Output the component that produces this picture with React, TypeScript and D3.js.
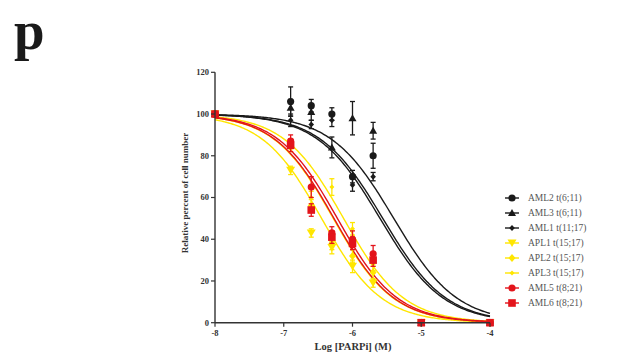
import React from "react";
import * as d3 from "d3";

const logDose = [-8, -6.9, -6.6, -6.3, -6, -5.7, -5, -4];
const seriesNames = [
  "AML2 t(6;11)", "AML3 t(6;11)", "AML1 t(11;17)",
  "APL1 t(15;17)", "APL2 t(15;17)", "APL3 t(15;17)",
  "AML5 t(8;21)", "AML6 t(8;21)",
];
const aml2 = [100, 106, 104, 100, 70, 80, 0, 0];
const aml2Err = [0, 7, 3, 3, 3, 6, 0, 0];
const aml3 = [100, 103, 101, 84, 98, 92, 0, 0];
const aml3Err = [0, 4, 4, 5, 8, 4, 0, 0];
const aml1 = [100, 97, 95, 97, 66, 70, 0, 0];
const aml1Err = [0, 3, 2, 3, 3, 2, 0, 0];
const apl1 = [100, 73, 43, 36, 27, 19, 0, 0];
const apl1Err = [0, 2, 2, 3, 3, 2, 0, 0];
const apl2 = [100, 84, 56, 38, 32, 24, 0, 0];
const apl2Err = [0, 2, 3, 3, 3, 3, 0, 0];
const apl3 = [100, 86, 60, 65, 45, 28, 0, 0];
const apl3Err = [0, 2, 3, 4, 3, 3, 0, 0];
const aml5 = [100, 87, 65, 43, 40, 33, 0, 0];
const aml5Err = [0, 3, 5, 3, 4, 4, 0, 0];
const aml6 = [100, 85, 54, 41, 38, 30, 0, 0];
const aml6Err = [0, 3, 3, 3, 3, 3, 0, 0];
// fitted curve parameters
const fitLogIC50 = [-5.56, -5.4, -5.6, -6.45, -6.28, -6.13, -6.27, -6.22];
const fitHill = [0.95, 0.95, 0.95, 1.0, 1.0, 1.0, 1.0, 1.0];

const xTicks = [-8, -7, -6, -5, -4];
const yTicks = [0, 20, 40, 60, 80, 100, 120];

const BLACK = "#1a1a1a";
const YELLOW = "#ffe600";
const RED = "#e3141b";

const colors = [BLACK, BLACK, BLACK, YELLOW, YELLOW, YELLOW, RED, RED];
const shapes = ["circle", "triangle", "diamondS", "triDown", "diamond", "small", "circle", "square"];
const values = [aml2, aml3, aml1, apl1, apl2, apl3, aml5, aml6];
const errs = [aml2Err, aml3Err, aml1Err, apl1Err, apl2Err, apl3Err, aml5Err, aml6Err];

function Marker({ shape, x, y, color }: { shape: string; x: number; y: number; color: string }) {
  switch (shape) {
    case "circle":
      return <circle cx={x} cy={y} r={3.6} fill={color} />;
    case "square":
      return <rect x={x - 3.8} y={y - 3.8} width={7.6} height={7.6} fill={color} />;
    case "triangle":
      return <path d={`M${x},${y - 4} L${x + 4},${y + 3} L${x - 4},${y + 3} Z`} fill={color} />;
    case "triDown":
      return <path d={`M${x - 4.5},${y - 3.5} L${x + 4.5},${y - 3.5} L${x},${y + 4} Z`} fill={color} />;
    case "diamond":
      return <path d={`M${x},${y - 4} L${x + 3.5},${y} L${x},${y + 4} L${x - 3.5},${y} Z`} fill={color} />;
    case "diamondS":
      return <path d={`M${x},${y - 3} L${x + 2.8},${y} L${x},${y + 3} L${x - 2.8},${y} Z`} fill={color} />;
    default:
      return <path d={`M${x},${y - 2.5} L${x + 2.5},${y} L${x},${y + 2.5} L${x - 2.5},${y} Z`} fill={color} />;
  }
}

export default function App() {
  const W = 627, H = 364;
  const x = d3.scaleLinear().domain([-8, -4]).range([215, 490]);
  const y = d3.scaleLinear().domain([0, 120]).range([322.7, 72.3]);
  const fine = d3.range(-8, -3.999, 0.02);

  const curvePath = (i: number) =>
    d3.line<number>()
      .x((d) => x(d))
      .y((d) => y(100 / (1 + Math.pow(10, (d - fitLogIC50[i]) * fitHill[i]))))(fine) || "";

  const drawOrder = [0, 1, 2, 3, 4, 5, 6, 7];
  const font = "'Liberation Serif', 'Times New Roman', serif";
  const axisColor = "#333";

  return (
    <svg width={W} height={H} style={{ position: "absolute", left: 0, top: 0, background: "#fff" }}>
      <text x={14} y={49} fontFamily={font} fontWeight="bold" fontSize={55} fill="#1a1a1a">p</text>

      {/* curves */}
      {drawOrder.map((i) => (
        <path key={"c" + i} d={curvePath(i)} fill="none" stroke={colors[i]} strokeWidth={1.4} />
      ))}

      {/* error bars and points */}
      {drawOrder.map((i) => (
        <g key={"p" + i}>
          {logDose.map((d, j) => {
            const e = errs[i][j];
            const cx = x(d), cy = y(values[i][j]);
            return (
              <g key={j}>
                {e > 0 && (
                  <g stroke={colors[i]} strokeWidth={1.3}>
                    <line x1={cx} x2={cx} y1={y(values[i][j] + e)} y2={y(values[i][j] - e)} />
                    <line x1={cx - 2.5} x2={cx + 2.5} y1={y(values[i][j] + e)} y2={y(values[i][j] + e)} />
                    <line x1={cx - 2.5} x2={cx + 2.5} y1={y(values[i][j] - e)} y2={y(values[i][j] - e)} />
                  </g>
                )}
                <Marker shape={shapes[i]} x={cx} y={cy} color={colors[i]} />
              </g>
            );
          })}
        </g>
      ))}

      {/* axes */}
      <g>
        <line x1={x(-8)} x2={x(-8)} y1={y(120)} y2={y(0)} stroke={axisColor} strokeWidth={1.4} />
        <line x1={x(-8)} x2={x(-4)} y1={y(0)} y2={y(0)} stroke={axisColor} strokeWidth={1.4} />
        {yTicks.map((t) => (
          <g key={"y" + t}>
            <line x1={x(-8) - 4} x2={x(-8)} y1={y(t)} y2={y(t)} stroke={axisColor} strokeWidth={1.2} />
            <text x={x(-8) - 6} y={y(t)} dy="0.33em" textAnchor="end" fontFamily={font} fontWeight="bold" fontSize={8.5} fill="#333">{t}</text>
          </g>
        ))}
        {xTicks.map((t) => (
          <g key={"x" + t}>
            <line x1={x(t)} x2={x(t)} y1={y(0)} y2={y(0) + 4} stroke={axisColor} strokeWidth={1.2} />
            <text x={x(t)} y={y(0) + 13} textAnchor="middle" fontFamily={font} fontWeight="bold" fontSize={8.5} fill="#333">{t}</text>
          </g>
        ))}
        <text x={353} y={350} textAnchor="middle" fontFamily={font} fontWeight="bold" fontSize={10.5} fill="#333">Log [PARPi] (M)</text>
        <text transform={`translate(188,193) rotate(-90)`} textAnchor="middle" fontFamily={font} fontWeight="bold" fontSize={9} fill="#333">Relative percent of cell number</text>
      </g>

      {/* legend */}
      {seriesNames.map((n, i) => {
        const ly = 198 + i * 15;
        return (
          <g key={"l" + i}>
            <line x1={505} x2={519} y1={ly} y2={ly} stroke={colors[i]} strokeWidth={1.4} />
            <Marker shape={shapes[i]} x={512} y={ly} color={colors[i]} />
            <text x={528} y={ly} dy="0.33em" fontFamily={font} fontSize={9.5} fill="#555">{n}</text>
          </g>
        );
      })}
    </svg>
  );
}
